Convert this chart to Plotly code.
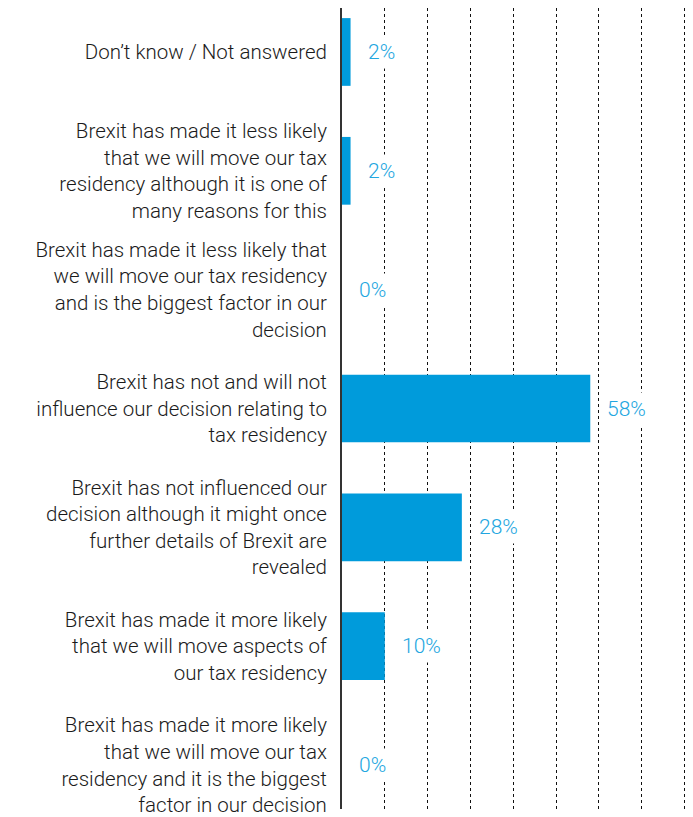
import plotly.graph_objects as go

# Survey responses: impact of Brexit on tax residency decisions (top to bottom)
categories = [
    "Don’t know / Not answered",
    "Brexit has made it less likely<br>that we will move our tax<br>residency although it is one of<br>many reasons for this",
    "Brexit has made it less likely that<br>we will move our tax residency<br>and is the biggest factor in our<br>decision",
    "Brexit has not and will not<br>influence our decision relating to<br>tax residency",
    "Brexit has not influenced our<br>decision although it might once<br>further details of Brexit are<br>revealed",
    "Brexit has made it more likely<br>that we will move aspects of<br>our tax residency",
    "Brexit has made it more likely<br>that we will move our tax<br>residency and it is the biggest<br>factor in our decision",
]
shares = [2, 2, 0, 58, 28, 10, 0]

BAR_BLUE = "#009BDB"
LABEL_BLUE = "#22A6E0"
TEXT_GREY = "#1a1a1a"
FONT = "Roboto"
WEIGHT = 300

fig = go.Figure(
    go.Bar(
        x=shares,
        y=categories,
        orientation="h",
        marker=dict(color=BAR_BLUE, line=dict(width=0)),
        hoverinfo="skip",
    )
)

# Percentage labels sitting just to the right of each bar
for cat, val in zip(categories, shares):
    fig.add_annotation(
        x=val,
        y=cat,
        xref="x",
        yref="y",
        text=f"{val}%",
        showarrow=False,
        xanchor="left",
        yanchor="middle",
        xshift=12,
        bgcolor="white",
        borderpad=4,
        font=dict(family=FONT, size=21, color=LABEL_BLUE, weight=WEIGHT),
    )

fig.update_layout(
    width=693,
    height=817,
    margin=dict(l=342, r=0, t=8, b=4),
    paper_bgcolor="white",
    plot_bgcolor="white",
    bargap=0.43,
    showlegend=False,
    font=dict(family=FONT, size=20, color=TEXT_GREY, weight=WEIGHT),
)

fig.update_xaxes(
    range=[0, 82],
    tick0=0,
    dtick=10,
    showgrid=True,
    gridcolor="#111111",
    gridwidth=1,
    griddash="dot",
    showticklabels=False,
    zeroline=False,
    showline=False,
    ticks="",
    fixedrange=True,
)

fig.update_yaxes(
    type="category",
    categoryorder="array",
    categoryarray=categories,
    range=[6.37, -0.37],
    showgrid=False,
    showline=True,
    linecolor="#333333",
    linewidth=2,
    ticks="",
    ticklabelstandoff=9,
    tickfont=dict(family=FONT, size=20.5, color=TEXT_GREY, weight=WEIGHT),
    zeroline=False,
    fixedrange=True,
)

fig.write_html("out.html")
